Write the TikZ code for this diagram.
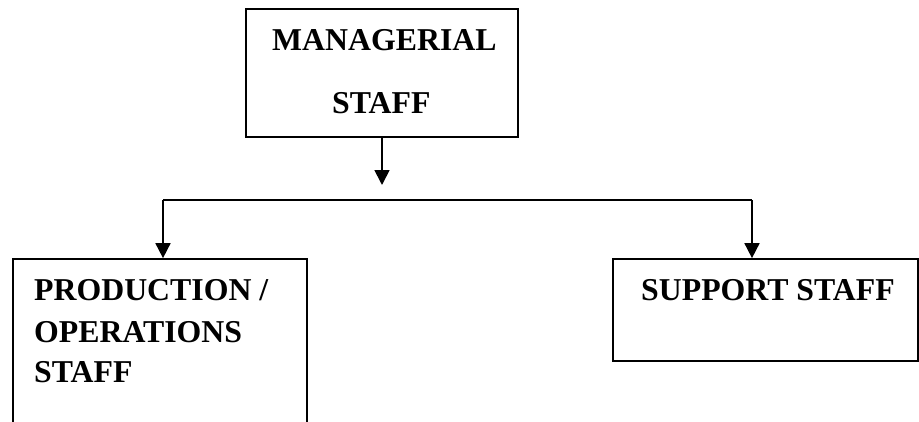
\documentclass[tikz,border=0pt]{standalone}
\usepackage{fontspec}
\setmainfont{Liberation Serif}
\usetikzlibrary{arrows.meta}
\begin{document}
\begin{tikzpicture}[x=1pt,y=-1pt,
  box/.style={draw, line width=1.7pt, inner sep=0pt, rectangle},
  lbl/.style={anchor=base west, inner sep=0pt, font=\fontsize{31.8}{41}\selectfont\bfseries},
  arr/.style={line width=1.7pt, -{Triangle[length=15pt,width=15pt]}},
  ln/.style={line width=1.7pt}]
\useasboundingbox (0,0) rectangle (919,421);
\node[box, minimum width=272pt, minimum height=128pt] (mgr) at (382,73) {};
\node[box, minimum width=294pt, minimum height=181pt] (prod) at (160,349.5) {};
\node[box, minimum width=305pt, minimum height=102pt] (sup) at (765.5,310) {};
\node[lbl] (t1) at (272,50) {MANAGERIAL};
\node[lbl] (t2) at (332,113) {STAFF};
\node[lbl] (t3) at (34,300) {PRODUCTION /};
\node[lbl] (t4) at (34,342) {OPERATIONS};
\node[lbl] (t5) at (34,382) {STAFF};
\node[lbl] (t6) at (641,300) {SUPPORT STAFF};
\coordinate (mtip) at (382,185);
\coordinate (hl) at (163,200);
\coordinate (hr) at (752,200);
\draw[arr] (mgr.south) -- (mtip);
\draw[ln] (hl) -- (hr);
\draw[arr] (hl) -- (hl |- prod.north);
\draw[arr] (hr) -- (hr |- sup.north);
\end{tikzpicture}
\end{document}
